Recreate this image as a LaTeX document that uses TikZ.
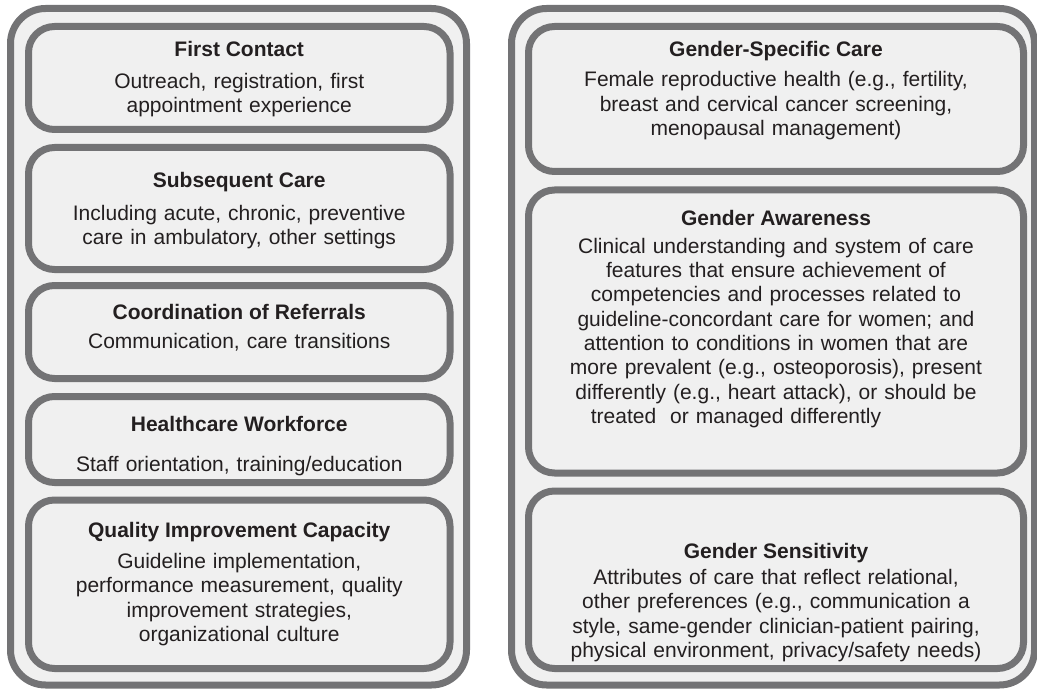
\documentclass[tikz,border=0pt]{standalone}
\usepackage{fontspec}
\setmainfont{Liberation Sans}
\usepackage{tikz}
\definecolor{framegray}{RGB}{115,115,117}
\definecolor{panelgray}{RGB}{240,240,240}
\definecolor{inkgray}{RGB}{35,31,32}

\begin{document}
\begin{tikzpicture}[x=1pt, y=-1pt,
    panel/.style={draw=framegray, fill=panelgray, line width=7pt, rounded corners=35pt, inner sep=0pt},
    card/.style={draw=framegray, fill=panelgray, line width=7pt, rounded corners=26pt, inner sep=0pt},
    heading/.style={anchor=base, inner sep=0pt, text=inkgray, font=\fontsize{21}{24.4}\selectfont\bfseries},
    blurb/.style={anchor=base, inner sep=0pt, text=inkgray, align=center, font=\fontsize{21}{24.4}\selectfont}]
    \useasboundingbox (0,0) rectangle (1037,690);

    % two outer panels
    \node[panel, minimum width=456pt, minimum height=676.5pt] (leftpanel) at (238.5,346.75) {};
    \node[panel, minimum width=523pt, minimum height=676.5pt] (rightpanel) at (773,346.75) {};

    % left column
    \node[card, minimum width=421.5pt, minimum height=103pt] (contact) at (239.25,78) {};
    \node[card, minimum width=421.5pt, minimum height=122pt] (subsequent) at (239.25,208.5) {};
    \node[card, minimum width=421.5pt, minimum height=93pt] (referrals) at (239.25,332) {};
    \node[card, minimum width=421.5pt, minimum height=86pt] (workforce) at (239.25,439.5) {};
    \node[card, minimum width=421.5pt, minimum height=168.5pt] (quality) at (239.25,584.25) {};

    \node[heading] (contacthead) at (239.25,57) {First Contact};
    \node[blurb, text width=410pt] (contacttext) at (239.25,88.3) {Outreach, registration, first\\ appointment experience};
    \node[heading] (subsequenthead) at (239.25,187.5) {Subsequent Care};
    \node[blurb, text width=410pt] (subsequenttext) at (239.25,220) {Including acute, chronic, preventive\\ care in ambulatory, other settings};
    \node[heading] (referralshead) at (239.25,319.5) {Coordination of Referrals};
    \node[blurb, text width=410pt] (referralstext) at (239.25,348) {Communication, care transitions};
    \node[heading] (workforcehead) at (239.25,431.5) {Healthcare Workforce};
    \node[blurb, text width=410pt] (workforcetext) at (239.25,471) {Staff orientation, training/education};
    \node[heading] (qualityhead) at (239.25,537.5) {Quality Improvement Capacity};
    \node[blurb, text width=410pt] (qualitytext) at (239.25,568.5) {Guideline implementation,\\ performance measurement, quality\\ improvement strategies,\\ organizational culture};

    % right column
    \node[card, minimum width=495pt, minimum height=145pt] (specific) at (776,99) {};
    \node[card, minimum width=495pt, minimum height=283pt] (awareness) at (776,331.5) {};
    \node[card, minimum width=495pt, minimum height=177.5pt] (sensitivity) at (776,579.75) {};

    \node[heading] (specifichead) at (776,57) {Gender-Specific Care};
    \node[blurb, text width=480pt] (specifictext) at (776,87) {Female reproductive health (e.g., fertility,\\ breast and cervical cancer screening,\\ menopausal management)};
    \node[heading] (awarenesshead) at (776,225.5) {Gender Awareness};
    \node[blurb, text width=480pt] (awarenesstext) at (776,253) {Clinical understanding and system of care\\ features that ensure achievement of\\ competencies and processes related to\\ guideline-concordant care for women; and\\ attention to conditions in women that are\\ more prevalent (e.g., osteoporosis), present\\ differently (e.g., heart attack), or should be\\ treated\ \ or managed differently\hspace*{80pt}};
    \node[heading] (sensitivityhead) at (776,558) {Gender Sensitivity};
    \node[blurb, text width=480pt] (sensitivitytext) at (776,584.5) {Attributes of care that reflect relational,\\ other preferences (e.g., communication a\\ style, same-gender clinician-patient pairing,\\ physical environment, privacy/safety needs)};
\end{tikzpicture}
\end{document}
